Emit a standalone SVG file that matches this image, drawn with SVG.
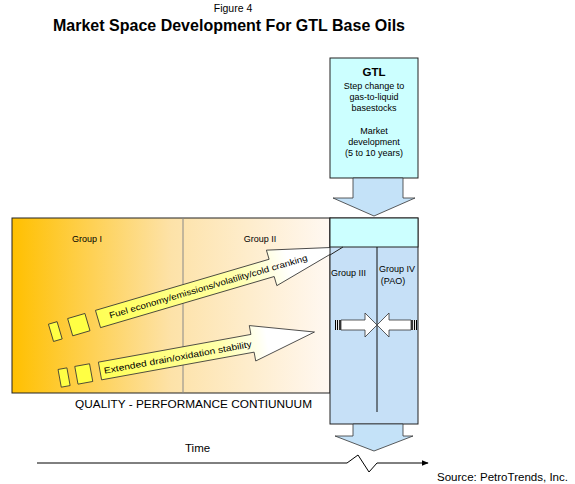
<svg xmlns="http://www.w3.org/2000/svg" width="575" height="484" viewBox="0 0 575 484">
<defs>
<linearGradient id="orange" x1="0" y1="0" x2="1" y2="0">
<stop offset="0" stop-color="#FFC000"/>
<stop offset="0.5" stop-color="#FDE2A8"/>
<stop offset="1" stop-color="#FFF8F2"/>
</linearGradient>
<linearGradient id="yel" x1="0" y1="0" x2="1" y2="0">
<stop offset="0" stop-color="#FFFF55"/>
<stop offset="0.55" stop-color="#FFFFA8"/>
<stop offset="0.78" stop-color="#FFFFFF"/>
</linearGradient>
<marker id="ah" viewBox="0 0 10 10" refX="9" refY="5" markerWidth="7" markerHeight="7" orient="auto" markerUnits="userSpaceOnUse">
<path d="M0,1 L10,5 L0,9 z" fill="#000"/>
</marker>
</defs>
<style>
text{font-family:"Liberation Sans",Arial,sans-serif;fill:#000}
.lbl{font-size:9px}
.ln{stroke:#222;stroke-width:1;fill:none}
.blk{fill:#FFFF44;stroke:#333;stroke-width:0.8}
.arw{fill:url(#yel);stroke:#333;stroke-width:0.8}
.carw{fill:#FFFFFF;stroke:#333;stroke-width:0.8}
.darw{fill:#C4E2F8;stroke:#333;stroke-width:0.8}
</style>
<rect width="575" height="484" fill="#FFFFFF"/>

<g id="title">
<text x="233" y="12" font-size="10.5" text-anchor="middle">Figure 4</text>
<text x="53" y="31" font-size="16.5" font-weight="bold" textLength="352" lengthAdjust="spacingAndGlyphs">Market Space Development For GTL Base Oils</text>
</g>

<g id="continuum">
<rect x="12" y="218" width="318" height="175" fill="url(#orange)" stroke="#222" stroke-width="1"/>
<line x1="183" y1="218" x2="183" y2="393" stroke="#888" stroke-width="1"/>
<text class="lbl" x="87" y="242" text-anchor="middle" font-size="8.5">Group I</text>
<text class="lbl" x="260" y="242" text-anchor="middle" font-size="8.5">Group II</text>
<text x="75" y="408" font-size="10.5" textLength="237" lengthAdjust="spacingAndGlyphs" fill="#222">QUALITY - PERFORMANCE CONTIUNUUM</text>
</g>

<g id="arrow-fuel" transform="translate(98,319) rotate(-16.4)">
<rect class="blk" x="-49" y="-9" width="9" height="18"/>
<rect class="blk" x="-29" y="-9" width="18" height="18"/>
<path class="arw" d="M0,-9 L181,-9 L181,-18.5 L255,0 L181,18.5 L181,9 L0,9 z"/>
<text x="12" y="3" font-size="8.6" textLength="206" lengthAdjust="spacingAndGlyphs">Fuel economy/emissions/volatility/cold cranking</text>
</g>

<g id="arrow-drain" transform="translate(100,371) rotate(-10.3)">
<rect class="blk" x="-41" y="-9" width="9" height="18"/>
<rect class="blk" x="-24" y="-9" width="15" height="18"/>
<path class="arw" d="M0,-9 L155,-9 L155,-18 L218,0 L155,18 L155,9 L0,9 z"/>
<text x="4" y="3.5" font-size="8.6" textLength="150" lengthAdjust="spacingAndGlyphs">Extended drain/oxidation stability</text>
</g>

<g id="gtl">
<rect x="330" y="58" width="88" height="120" fill="#CCFFFF" stroke="#222" stroke-width="1"/>
<text x="374" y="76" font-size="11.5" font-weight="bold" text-anchor="middle">GTL</text>
<text class="lbl" x="374" y="89" text-anchor="middle" font-size="8.5">Step change to</text>
<text class="lbl" x="374" y="100" text-anchor="middle" font-size="8.5">gas-to-liquid</text>
<text class="lbl" x="374" y="111" text-anchor="middle" font-size="8.5">basestocks</text>
<text class="lbl" x="374" y="134" text-anchor="middle" font-size="8.5">Market</text>
<text class="lbl" x="374" y="145" text-anchor="middle" font-size="8.5">development</text>
<text class="lbl" x="374" y="156" text-anchor="middle" font-size="8.5">(5 to 10 years)</text>
</g>

<g id="groups-iii-iv">
<rect x="330" y="218" width="88" height="206" fill="#C6E0F7" stroke="#222" stroke-width="1"/>
<rect x="330" y="218" width="88" height="29" fill="#CCFFFF" stroke="#222" stroke-width="1"/>
<line x1="377" y1="247" x2="377" y2="412" stroke="#111" stroke-width="1"/>
<text class="lbl" x="331" y="276" font-size="8.5">Group III</text>
<text class="lbl" x="397" y="272" text-anchor="middle" font-size="8.5">Group IV</text>
<text class="lbl" x="393" y="284" text-anchor="middle" font-size="8.5">(PAO)</text>
<path d="M330,255 L343,247" class="ln" stroke-width="0.8"/>
</g>

<g id="converge-left">
<path class="carw" d="M341,320 L365,320 L365,313 L377,325 L365,337 L365,330 L341,330 z"/>
<rect x="335" y="320" width="6" height="10" fill="#FFFFFF"/>
<line x1="335.5" y1="320" x2="335.5" y2="330" stroke="#000" stroke-width="1"/>
<line x1="337.5" y1="320" x2="337.5" y2="330" stroke="#000" stroke-width="1.2"/>
<line x1="340" y1="320" x2="340" y2="330" stroke="#000" stroke-width="1.6"/>
</g>
<g id="converge-right">
<path class="carw" d="M411,320 L389,320 L389,313 L377,325 L389,337 L389,330 L411,330 z"/>
<rect x="411" y="320" width="6" height="10" fill="#FFFFFF"/>
<line x1="412" y1="320" x2="412" y2="330" stroke="#000" stroke-width="1.6"/>
<line x1="414.5" y1="320" x2="414.5" y2="330" stroke="#000" stroke-width="1.2"/>
<line x1="416.5" y1="320" x2="416.5" y2="330" stroke="#000" stroke-width="1"/>
</g>

<g id="connectors">
<path class="darw" d="M353,178 L403,178 L403,198 L415,198 L374,216 L333,198 L353,198 z"/>
<path class="darw" d="M353,424 L403,424 L403,436 L413,436 L374,451 L335,436 L353,436 z"/>
<path d="M37,463 L347,463 L358,455 L369,472 L377,463 L428,463" fill="none" stroke="#000" stroke-width="1" marker-end="url(#ah)"/>
</g>

<g id="time-labels">
<text x="185" y="452" font-size="11.5">Time</text>
<text x="437" y="481" font-size="10" textLength="131" lengthAdjust="spacingAndGlyphs">Source: PetroTrends, Inc.</text>
</g>
</svg>
